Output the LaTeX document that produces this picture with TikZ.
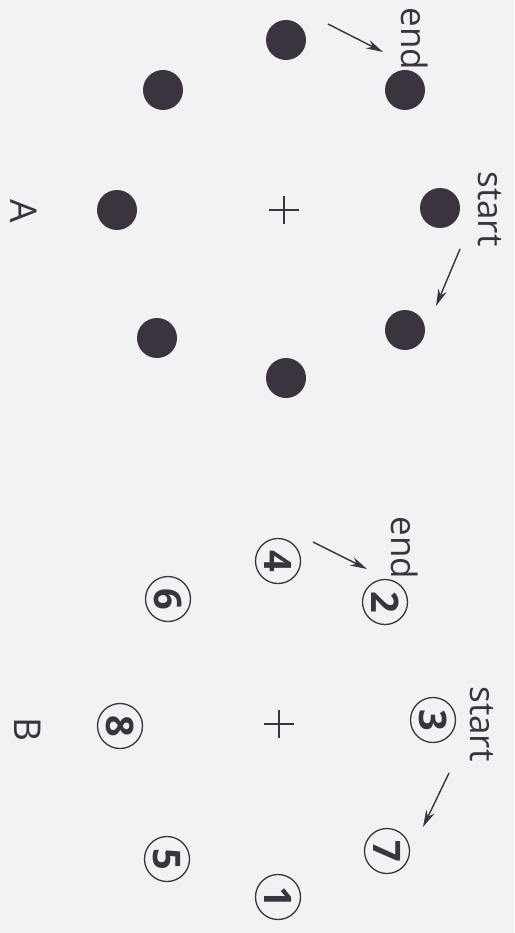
\documentclass[tikz,border=0pt]{standalone}
\usepackage{fontspec}
\setmainfont{Open Sans}
\usetikzlibrary{arrows.meta}

\definecolor{dotgray}{HTML}{39343D}
\definecolor{paper}{HTML}{F2F2F4}

\begin{document}
\begin{tikzpicture}[
        x=1pt, y=-1pt,
        dot/.style={circle, fill=dotgray, minimum size=40pt, inner sep=0pt},
        numcirc/.style={circle, draw=dotgray, line width=1.3pt, minimum size=45pt, inner sep=0pt, rotate=-90, text=dotgray, font=\fontsize{38}{40}\selectfont\bfseries},
        tag/.style={rotate=-90, text=dotgray, font=\fontsize{35}{40}\selectfont},
        panel/.style={rotate=-90, text=dotgray, font=\fontsize{37}{40}\selectfont},
        arrow/.style={-{Stealth[length=17pt, width=9pt]}, line width=1.4pt, draw=dotgray},
        cross/.style={line width=1.3pt, draw=dotgray},
        ]

        % Paper and bounding box
        \fill[paper] (0,0) rectangle (514,933);
        \useasboundingbox (0,0) rectangle (514,933);

        % Panel A: filled dots round the centre
        \node[dot] (a1) at (286,40) {};
        \node[dot] (a2) at (405,90) {};
        \node[dot] (a3) at (440,208) {};
        \node[dot] (a4) at (405,330) {};
        \node[dot] (a5) at (286,378) {};
        \node[dot] (a6) at (157,338) {};
        \node[dot] (a7) at (117,210) {};
        \node[dot] (a8) at (163,90) {};
        \coordinate (ca) at (284,210);
        \draw[cross] (ca) ++(-15,0) -- ++(30,0) (ca) ++(0,-14) -- ++(0,28);

        % Panel A: labels and arrows
        \node[tag] (enda) at (415,39) {end};
        \node[tag] (starta) at (490,209) {start};
        \coordinate (enda0) at (328,24);
        \coordinate (enda1) at (383,52);
        \coordinate (starta0) at (460,249);
        \coordinate (starta1) at (436,306);
        \draw[arrow] (enda0) -- (enda1);
        \draw[arrow] (starta0) -- (starta1);
        \node[panel] (pa) at (24,211) {A};

        % Panel B: numbered circles round the centre
        \node[numcirc] (b4) at (278,561) {4};
        \node[numcirc] (b2) at (385,602) {2};
        \node[numcirc] (b3) at (433,720) {3};
        \node[numcirc] (b7) at (387,851) {7};
        \node[numcirc] (b1) at (278,897) {1};
        \node[numcirc] (b5) at (167,859) {5};
        \node[numcirc] (b8) at (120,726) {8};
        \node[numcirc] (b6) at (168,599) {6};
        \coordinate (cb) at (279,724);
        \draw[cross] (cb) ++(-15,0) -- ++(30,0) (cb) ++(0,-14) -- ++(0,28);

        % Panel B: labels and arrows
        \node[tag] (endb) at (405,548) {end};
        \node[tag] (startb) at (482,724) {start};
        \coordinate (endb0) at (313,542);
        \coordinate (endb1) at (367,569);
        \coordinate (startb0) at (449,773);
        \coordinate (startb1) at (423,827);
        \draw[arrow] (endb0) -- (endb1);
        \draw[arrow] (startb0) -- (startb1);
        \node[panel] (pb) at (28,729) {B};

    \end{tikzpicture}
\end{document}
